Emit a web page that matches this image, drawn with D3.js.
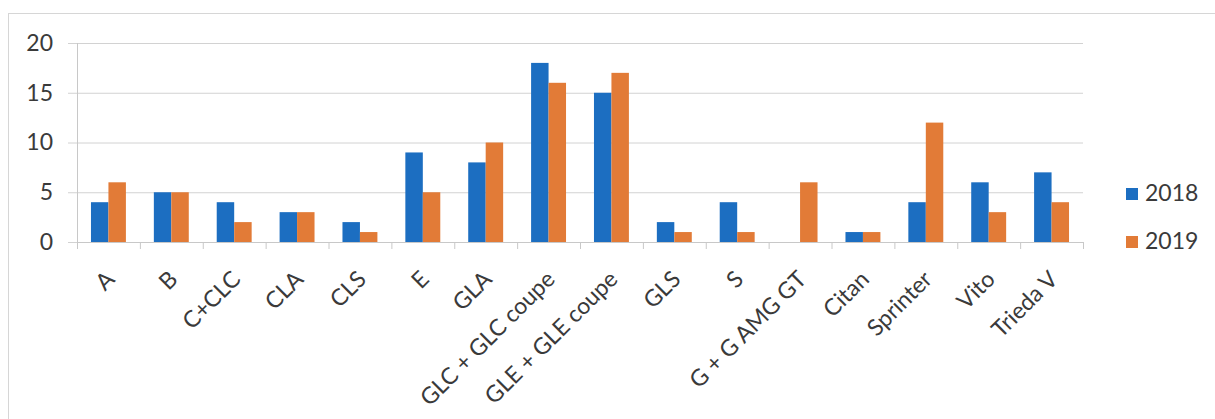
<!DOCTYPE html>
<html>
<head>
<meta charset="utf-8">
<script src="https://cdn.jsdelivr.net/npm/d3@7"></script>
<style>
    body { margin: 0; background: #fff; }
    svg text { font-family: Lato, "Open Sans", sans-serif; fill: #3a3a3a; }
</style>
</head>
<body>
<svg id="chart" width="1215" height="419"></svg>
<script>
// data
const categories = ["A", "B", "C+CLC", "CLA", "CLS", "E", "GLA", "GLC + GLC coupe", "GLE + GLE coupe",
    "GLS", "S", "G + G AMG GT", "Citan", "Sprinter", "Vito", "Trieda V"];
const values2018 = [4, 5, 4, 3, 2, 9, 8, 18, 15, 2, 4, 0, 1, 4, 6, 7];
const values2019 = [6, 5, 2, 3, 1, 5, 10, 16, 17, 1, 1, 6, 1, 12, 3, 4];
const seriesNames = ["2018", "2019"];
const yTicks = [0, 5, 10, 15, 20];

const colors = {"2018": "#1c6ec1", "2019": "#e27b37"};

let svg = d3.select("#chart");

// outer chart frame (runs off the right and bottom edge)
svg.append("rect")
    .attr("x", 8.5).attr("y", 13.5)
    .attr("width", 1260).attr("height", 420)
    .attr("fill", "none").attr("stroke", "#d6d6d6");

const plotL = 77, plotR = 1083, plotT = 43, plotB = 242;

let x = d3.scaleBand().domain(categories).range([plotL, plotR]);
let xSeries = d3.scaleBand().domain(seriesNames).range([0, x.bandwidth()]).paddingInner(0).paddingOuter(0.8);
let y = d3.scaleLinear().domain([0, 20]).range([plotB, plotT]);

// gridlines + y labels
let yAxis = d3.axisLeft(y).tickValues(yTicks).tickSize(-(plotR - plotL)).tickPadding(24);
let gy = svg.append("g").attr("transform", `translate(${plotL},0)`).call(yAxis);
gy.select(".domain").remove();
gy.selectAll(".tick line").attr("stroke", "#d2d2d2").attr("x1", -9);
gy.selectAll(".tick text").attr("font-size", 23).attr("font-family", "Lato").attr("fill", "#3a3a3a");

// vertical axis line
svg.append("line")
    .attr("x1", plotL + 0.5).attr("x2", plotL + 0.5)
    .attr("y1", plotT).attr("y2", plotB)
    .attr("stroke", "#c8c8c8");

// bars
let rows = categories.map((c, i) => ({cat: c, vals: [values2018[i], values2019[i]]}));
let groups = svg.append("g").selectAll("g").data(rows).join("g")
    .attr("transform", d => `translate(${x(d.cat)},0)`);
groups.selectAll("rect").data(d => d.vals.map((v, j) => ({name: seriesNames[j], v: v})))
    .join("rect")
    .attr("x", d => xSeries(d.name))
    .attr("width", xSeries.bandwidth())
    .attr("y", d => y(d.v))
    .attr("height", d => y(0) - y(d.v))
    .attr("fill", d => colors[d.name]);

// x axis baseline + ticks at band edges
svg.append("line")
    .attr("x1", plotL).attr("x2", plotR)
    .attr("y1", plotB + 0.5).attr("y2", plotB + 0.5)
    .attr("stroke", "#c8c8c8");
let edges = categories.map(c => x(c)).concat([plotR]);
svg.append("g").selectAll("line").data(edges).join("line")
    .attr("x1", d => d + 0.5).attr("x2", d => d + 0.5)
    .attr("y1", plotB).attr("y2", plotB + 7)
    .attr("stroke", "#c8c8c8");

// category labels
svg.append("g").selectAll("text").data(categories).join("text")
    .attr("transform", d => `translate(${x(d) + x.bandwidth() / 2 + 2},${plotB + 33}) rotate(-45)`)
    .attr("text-anchor", "end")
    .attr("dy", "0.35em")
    .attr("font-size", 23)
    .text(d => d);

// legend
let legend = svg.append("g").selectAll("g").data(seriesNames).join("g")
    .attr("transform", (d, i) => `translate(1126,${188 + i * 48})`);
legend.append("rect").attr("width", 12).attr("height", 12).attr("fill", d => colors[d]);
legend.append("text").attr("x", 19).attr("y", 13).attr("font-size", 23).text(d => d);
</script>
</body>
</html>
